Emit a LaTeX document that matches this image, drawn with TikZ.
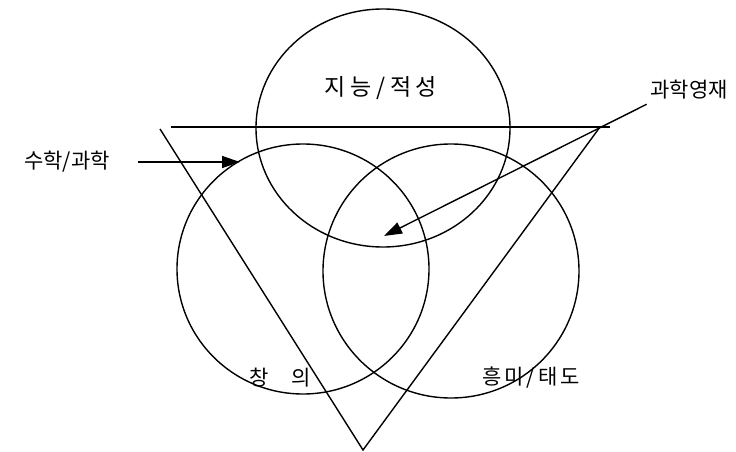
\documentclass[tikz,border=0pt]{standalone}
\usepackage{fontspec}
\setmainfont{Noto Sans CJK KR}
\usetikzlibrary{arrows.meta}

\begin{document}
\begin{tikzpicture}[x=1pt, y=-1pt, line width=1.4pt,
  lbl/.style={font=\fontsize{21}{24}\selectfont, inner sep=0pt}]
  \useasboundingbox (0,0) rectangle (736,452);

  % Circles
  \draw (383,128) ellipse [x radius=127, y radius=119];   % top
  \draw (303,269) ellipse [x radius=126, y radius=125];   % left
  \draw (451,271) ellipse [x radius=128, y radius=127];   % right

  % Triangle
  \draw (171,127) -- (610,127);
  \draw (160,129) -- (363,450) -- (600,127);

  % Labels
  \node[lbl, font=\fontsize{23}{26}\selectfont] (jineung) at (381,88)
    {\addfontfeatures{LetterSpace=20}지능/적성};
  \node[lbl] (suhak) at (67,162) {수학/과학};
  \node[lbl] (yeongjae) at (689,90) {과학영재};
  \node[lbl] (changui) at (280,378) {창\hspace{1.1em}의};
  \node[lbl] (heungmi) at (531,378) {\addfontfeatures{LetterSpace=14}흥미/태도};

  % Arrows
  \coordinate (side) at (240,162);
  \coordinate (core) at (384,236);
  \draw[-{Triangle[length=18pt,width=12pt]}] (suhak.east) ++(28,0) -- (side);
  \draw[-{Triangle[length=18pt,width=12pt]}] (yeongjae.south west) ++(-3,4) -- (core);
\end{tikzpicture}
\end{document}
